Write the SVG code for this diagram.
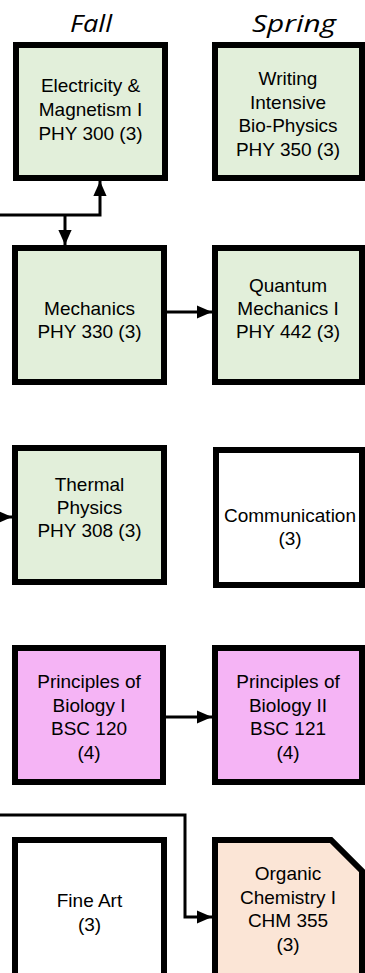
<svg xmlns="http://www.w3.org/2000/svg" width="365" height="973" viewBox="0 0 365 973">
<style>
.box{stroke:#000;stroke-width:6;stroke-linejoin:miter}
.g{fill:#e2efda}
.w{fill:#ffffff}
.p{fill:#f5b4f5}
.o{fill:#fbe5d6}
.t{font-family:"Liberation Sans",Arial,sans-serif;font-size:19px;fill:#000;text-anchor:middle}
.h{font-family:"Open Sans","Liberation Sans",sans-serif;font-style:italic;font-size:24px;fill:#000;text-anchor:middle}
.c{fill:none;stroke:#000;stroke-width:3}
</style>
<defs>
<marker id="ah" markerWidth="5" markerHeight="4.4" refX="5" refY="2.2" orient="auto" markerUnits="strokeWidth">
<path d="M0,0 L5,2.2 L0,4.4 Z" fill="#000"/>
</marker>
</defs>
<rect width="365" height="973" fill="#fff"/>
<g id="headers">
<text class="h" x="91" y="32" textLength="42" lengthAdjust="spacingAndGlyphs">Fall</text>
<text class="h" x="294" y="32" textLength="84" lengthAdjust="spacingAndGlyphs">Spring</text>
</g>
<g id="connectors">
<path class="c" d="M0,215 H100 V181" marker-end="url(#ah)"/>
<path class="c" d="M65,215 V245" marker-end="url(#ah)"/>
<path class="c" d="M167,312 H212" marker-end="url(#ah)"/>
<path class="c" d="M-10,517 H12" marker-end="url(#ah)"/>
<path class="c" d="M166,717 H212" marker-end="url(#ah)"/>
<path class="c" d="M0,815 H185 V917 H212" marker-end="url(#ah)"/>
</g>
<g id="phy300">
<rect class="box g" x="16" y="45" width="149" height="133"/>
<text class="t" x="90.5" y="92">Electricity &amp;</text>
<text class="t" x="90.5" y="116">Magnetism I</text>
<text class="t" x="90.5" y="140">PHY 300 (3)</text>
</g>
<g id="phy350">
<rect class="box g" x="215" y="45" width="147" height="133"/>
<text class="t" x="288" y="85">Writing</text>
<text class="t" x="288" y="108.5">Intensive</text>
<text class="t" x="288" y="132">Bio-Physics</text>
<text class="t" x="288" y="155.5">PHY 350 (3)</text>
</g>
<g id="phy330">
<rect class="box g" x="15" y="248" width="149" height="134"/>
<text class="t" x="89.5" y="315">Mechanics</text>
<text class="t" x="89.5" y="338">PHY 330 (3)</text>
</g>
<g id="phy442">
<rect class="box g" x="215" y="248" width="147" height="134"/>
<text class="t" x="288" y="292">Quantum</text>
<text class="t" x="288" y="315">Mechanics I</text>
<text class="t" x="288" y="338">PHY 442 (3)</text>
</g>
<g id="phy308">
<rect class="box g" x="15" y="448" width="149" height="134"/>
<text class="t" x="89.5" y="491">Thermal</text>
<text class="t" x="89.5" y="514">Physics</text>
<text class="t" x="89.5" y="537">PHY 308 (3)</text>
</g>
<g id="communication">
<rect class="box w" x="216" y="450" width="146" height="135"/>
<text class="t" x="290" y="522">Communication</text>
<text class="t" x="290" y="545">(3)</text>
</g>
<g id="bsc120">
<rect class="box p" x="15" y="648" width="148" height="134"/>
<text class="t" x="89" y="688">Principles of</text>
<text class="t" x="89" y="711.5">Biology I</text>
<text class="t" x="89" y="735">BSC 120</text>
<text class="t" x="89" y="758.5">(4)</text>
</g>
<g id="bsc121">
<rect class="box p" x="215" y="648" width="147" height="134"/>
<text class="t" x="288" y="688">Principles of</text>
<text class="t" x="288" y="711.5">Biology II</text>
<text class="t" x="288" y="735">BSC 121</text>
<text class="t" x="288" y="758.5">(4)</text>
</g>
<g id="fineart">
<rect class="box w" x="15" y="840" width="149" height="145"/>
<text class="t" x="89.5" y="907">Fine Art</text>
<text class="t" x="89.5" y="930.5">(3)</text>
</g>
<g id="chm355">
<path class="box o" d="M215,840 H331 L362,871 V985 H215 Z"/>
<text class="t" x="288" y="880">Organic</text>
<text class="t" x="288" y="903.5">Chemistry I</text>
<text class="t" x="288" y="927">CHM 355</text>
<text class="t" x="288" y="950.5">(3)</text>
</g>
</svg>
